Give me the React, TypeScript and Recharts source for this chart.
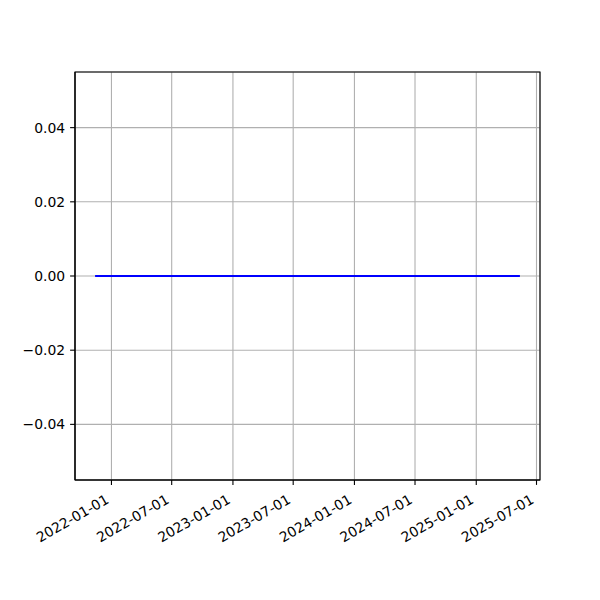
import React from "react";
import { LineChart, Line, XAxis, YAxis, CartesianGrid, ReferenceArea } from "recharts";

const dates = [
  "2021-11-16", "2022-02-16", "2022-05-16", "2022-08-16", "2022-11-16",
  "2023-02-16", "2023-05-16", "2023-08-16", "2023-11-16", "2024-02-16",
  "2024-05-16", "2024-08-16", "2024-11-16", "2025-02-16", "2025-05-09",
];
const values = [0, 0, 0, 0, 0, 0, 0, 0, 0, 0, 0, 0, 0, 0, 0];
const xTickLabels = [
  "2022-01-01", "2022-07-01", "2023-01-01", "2023-07-01",
  "2024-01-01", "2024-07-01", "2025-01-01", "2025-07-01",
];
const yTicks = [-0.04, -0.02, 0, 0.02, 0.04];
const yDomain = [-0.055, 0.055];

const toTs = (s: string) => {
  const [y, m, d] = s.split("-").map(Number);
  return Date.UTC(y, m - 1, d);
};
const pad2 = (n: number) => (n < 10 ? "0" + n : "" + n);
const fmtDate = (t: number) => {
  const d = new Date(t);
  return `${d.getUTCFullYear()}-${pad2(d.getUTCMonth() + 1)}-${pad2(d.getUTCDate())}`;
};

const data = dates.map((d, i) => ({ t: toTs(d), value: values[i] }));
const tMin = Math.min(...data.map((p) => p.t));
const tMax = Math.max(...data.map((p) => p.t));
const span = tMax - tMin;
const xDomain = [tMin - 0.05 * span, tMax + 0.05 * span];
const xTicks = xTickLabels.map(toTs);

const FONT = "'DejaVu Sans', sans-serif";
const FS = 13.9;

const XTick = (props: any) => {
  const { x, y, payload } = props;
  const ax = x - 1.6;
  const ay = y + 12.5;
  return (
    <g transform={`translate(${ax},${ay}) rotate(-30)`}>
      <text x={0} y={0} textAnchor="end" fontFamily={FONT} fontSize={FS} fill="#000">
        {fmtDate(payload.value)}
      </text>
    </g>
  );
};

const yFmt = (v: number) => (v < 0 ? "\u2212" : "") + Math.abs(v).toFixed(2);

export default function App() {
  return (
    <div style={{ position: "absolute", left: 0, top: 0, width: 600, height: 600, background: "#fff" }}>
      <LineChart
        width={600}
        height={600}
        data={data}
        margin={{ top: 72, right: 60, bottom: 0, left: 0 }}
      >
        <CartesianGrid stroke="#b0b0b0" strokeWidth={1.1} />
        <XAxis
          dataKey="t"
          type="number"
          domain={xDomain}
          ticks={xTicks}
          height={120}
          interval={0}
          tick={<XTick />}
          tickSize={4.9}
          tickMargin={4.9}
          axisLine={{ stroke: "#000", strokeWidth: 1.1 }}
          tickLine={{ stroke: "#000", strokeWidth: 1.1 }}
          allowDataOverflow
        />
        <YAxis
          type="number"
          domain={yDomain}
          ticks={yTicks}
          width={75}
          interval={0}
          tickFormatter={yFmt}
          tickSize={4.9}
          tickMargin={4.9}
          tick={{ fill: "#000", fontFamily: FONT, fontSize: FS }}
          axisLine={{ stroke: "#000", strokeWidth: 1.1 }}
          tickLine={{ stroke: "#000", strokeWidth: 1.1 }}
          allowDataOverflow
        />
        <Line
          dataKey="value"
          stroke="#0000ff"
          strokeWidth={2.08}
          strokeLinecap="square"
          dot={false}
          isAnimationActive={false}
        />
        <ReferenceArea
          x1={xDomain[0]}
          x2={xDomain[1]}
          y1={yDomain[0]}
          y2={yDomain[1]}
          fill="none"
          fillOpacity={0}
          stroke="#000"
          strokeWidth={1.1}
          strokeOpacity={1}
          ifOverflow="visible"
        />
      </LineChart>
    </div>
  );
}
